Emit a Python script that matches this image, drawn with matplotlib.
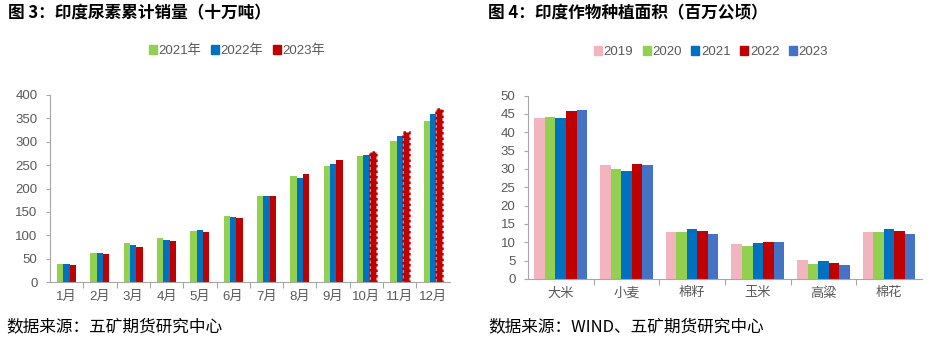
import numpy as np
import matplotlib
matplotlib.use("Agg")
import matplotlib.pyplot as plt
from matplotlib.patches import Patch

plt.rcParams['font.family'] = ['Liberation Sans', 'Noto Sans CJK SC', 'DejaVu Sans']

# 图3 数据
months = ["1月", "2月", "3月", "4月", "5月", "6月", "7月", "8月", "9月", "10月", "11月", "12月"]
sales_2021 = [38, 63, 84, 94, 110, 141, 185, 226, 249, 270, 301, 344]
sales_2022 = [38, 62, 80, 91, 111, 140, 183, 223, 252, 272, 312, 360]
sales_2023 = [37, 61, 76, 88, 107, 138, 183, 230, 260, 279, 321, 371]
years_left = ["2021年", "2022年", "2023年"]

# 图4 数据
crops = ["大米", "小麦", "棉籽", "玉米", "高粱", "棉花"]
area_2019 = [43.9, 31.0, 12.7, 9.6, 5.2, 12.7]
area_2020 = [44.3, 29.9, 12.7, 9.1, 4.2, 12.7]
area_2021 = [43.9, 29.5, 13.5, 9.8, 5.0, 13.5]
area_2022 = [45.8, 31.3, 13.2, 10.0, 4.4, 13.2]
area_2023 = [46.1, 31.0, 12.2, 10.0, 3.8, 12.2]
years_right = ["2019", "2020", "2021", "2022", "2023"]

GREEN, BLUE, RED = "#92D050", "#0070C0", "#C00000"
PINK, BLUE2 = "#F2B5BF", "#4472C4"
GREY = "#595959"
AXIS = "#A6A6A6"

fig = plt.figure(figsize=(9.36, 3.44), dpi=100)


def style_axis(ax, ymax, step, ncat):
    ax.set_ylim(0, ymax)
    ax.set_yticks(np.arange(0, ymax + 1e-9, step))
    ax.set_xlim(0.5, ncat + 0.5)
    for s in ["top", "right"]:
        ax.spines[s].set_visible(False)
    for s in ["left", "bottom"]:
        ax.spines[s].set_color(AXIS)
        ax.spines[s].set_linewidth(0.8)
    ax.tick_params(axis='y', colors=GREY, labelsize=9.5, length=3, width=0.8,
                   color=AXIS, pad=6)
    ax.tick_params(axis='x', which='major', length=0, colors=GREY,
                   labelsize=9.5, pad=6)
    ax.set_xticks(np.arange(1.5, ncat, 1), minor=True)
    ax.tick_params(axis='x', which='minor', length=4, width=0.8, color=AXIS)


# ---- 左图 ----
ax1 = fig.add_axes([0.0534, 0.180, 0.427, 0.544])
x = np.arange(1, len(months) + 1)
w = 0.19
ax1.bar(x - w, sales_2021, w, color=GREEN)
ax1.bar(x, sales_2022, w, color=BLUE)
b3 = ax1.bar(x + w, sales_2023, w, color=RED)
# 10-12月为预估值，虚线边框
for i in range(9, 12):
    b3[i].set_edgecolor(RED)
    b3[i].set_linewidth(1.8)
    b3[i].set_linestyle((0, (1, 1.2)))
style_axis(ax1, 400, 50, len(months))
ax1.set_xticks(x)
ax1.set_xticklabels(months)

handles1 = [Patch(color=c) for c in (GREEN, BLUE, RED)]
fig.legend(handles1, years_left, loc='center', bbox_to_anchor=(237 / 936, 1 - 51 / 344),
           ncol=3, frameon=False, fontsize=9.5, handlelength=0.6, handleheight=0.6,
           handletextpad=0.15, columnspacing=0.7, labelcolor=GREY)

# ---- 右图 ----
ax2 = fig.add_axes([0.564, 0.189, 0.421, 0.533])
xc = np.arange(1, len(crops) + 1)
w2 = 0.16
series = [area_2019, area_2020, area_2021, area_2022, area_2023]
colors = [PINK, GREEN, BLUE, RED, BLUE2]
for k, (vals, c) in enumerate(zip(series, colors)):
    ax2.bar(xc + (k - 2) * w2, vals, w2, color=c)
style_axis(ax2, 50, 5, len(crops))
ax2.set_xticks(xc)
ax2.set_xticklabels(crops)

handles2 = [Patch(color=c) for c in colors]
fig.legend(handles2, years_right, loc='center', bbox_to_anchor=(711 / 936, 1 - 52 / 344),
           ncol=5, frameon=False, fontsize=9.5, handlelength=0.6, handleheight=0.6,
           handletextpad=0.15, columnspacing=0.7, labelcolor=GREY)

# ---- 标题与来源 ----
fig.text(8 / 936, 1 - 13 / 344, "图 3：印度尿素累计销量（十万吨）", fontsize=12,
         fontweight='bold', va='center', ha='left', family=['Noto Sans CJK SC'])
fig.text(488 / 936, 1 - 13 / 344, "图 4：印度作物种植面积（百万公顷）", fontsize=12,
         fontweight='bold', va='center', ha='left', family=['Noto Sans CJK SC'])
fig.text(6 / 936, 1 - 327 / 344, "数据来源：五矿期货研究中心", fontsize=12,
         va='center', ha='left', family=['Noto Sans CJK SC'])
fig.text(488 / 936, 1 - 327 / 344, "数据来源：WIND、五矿期货研究中心", fontsize=12,
         va='center', ha='left', family=['Noto Sans CJK SC'])

fig.savefig("out.png", dpi=100)
